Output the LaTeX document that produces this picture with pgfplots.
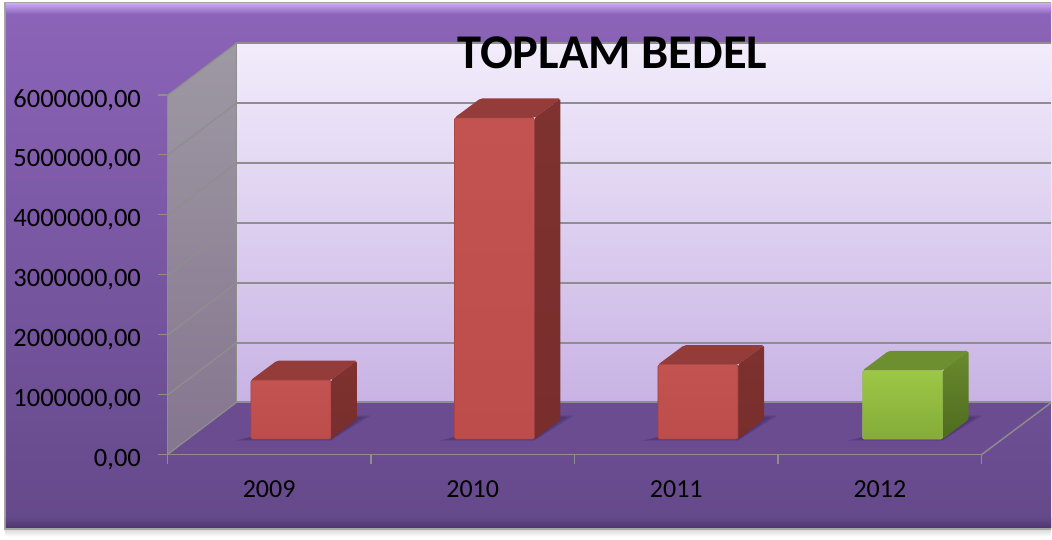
\documentclass[border=0pt]{standalone}
\usepackage{fontspec}
\setmainfont{Carlito}
\usepackage{pgfplots}
\pgfplotsset{compat=1.18}
\definecolor{gridgray}{HTML}{8E8E8E}
\definecolor{rfa}{HTML}{C25350}\definecolor{rfb}{HTML}{BD4D4A}
\definecolor{rt}{HTML}{933C39}\definecolor{rsa}{HTML}{7F3230}
\definecolor{rsb}{HTML}{772E2C}\definecolor{gfa}{HTML}{9DC746}
\definecolor{gfb}{HTML}{84AC38}\definecolor{gt}{HTML}{6E8F30}
\definecolor{gsa}{HTML}{6A8A2D}\definecolor{gsb}{HTML}{4E6B1F}
\definecolor{shadowc}{HTML}{3F2A66}
\definecolor{pgtop}{HTML}{D0D0D0}
\definecolor{bga}{HTML}{8C64B9}\definecolor{bgb}{HTML}{64498A}
\definecolor{bgl}{HTML}{C6A4F2}\definecolor{bgd}{HTML}{4E3770}
\definecolor{wa}{HTML}{F2ECFB}\definecolor{wb}{HTML}{C8B3E4}
\definecolor{floorc}{HTML}{6C4C90}
\definecolor{sa}{HTML}{9E99A3}\definecolor{sb}{HTML}{85758F}
\tikzset{
 redfront/.style={draw=rfb!85!black,line width=.6pt,top color=rfa,bottom color=rfb},
 redtop/.style={draw=none,fill=rt},
 redside/.style={draw=none,top color=rsa,bottom color=rsb},
 greenfront/.style={draw=gfb!85!white,line width=.6pt,top color=gfa,bottom color=gfb},
 greentop/.style={draw=none,fill=gt},
 greenside/.style={draw=none,top color=gsa,bottom color=gsb},
}
% shadow on the floor: left, right, far right, far left
\newcommand\floorshadow[4]{%
 \addplot[draw=none,fill=shadowc,opacity=.35,forget plot] coordinates {(#1,235000)(#2,235000)(#3,650000)(#4,650000)} -- cycle;
 \addplot[draw=none,fill=shadowc,opacity=.4,forget plot] coordinates {(#1+0.03,248000)(#2,248000)(#3-0.03,630000)(#4,630000)} -- cycle;
}
% x0, x1, x2 (back right), xb (back left), top of front face, top of back edge, colour prefix
\newcommand\cube[7]{%
 \addplot[#7top,rounded corners=2pt,forget plot] coordinates {(#1,#5)(#2,#5)(#3,#6)(#4,#6)} -- cycle;
 \addplot[#7side,rounded corners=2pt,forget plot] coordinates {(#2,258000)(#2,#5)(#3,#6)(#3,583000)} -- cycle;
 \addplot[#7front,rounded corners=2pt,forget plot] coordinates {(#1,258000)(#2,258000)(#2,#5)(#1,#5)} -- cycle;
}
\begin{document}
\begin{tikzpicture}
\begin{scope}[x=1pt,y=-1pt,shift={(-167.5pt,455pt)}]
 % page
 \fill[white] (0,0) rectangle (1052,540);
 \shade[top color=pgtop,bottom color=white] (5,528) rectangle (1052,537);
 \fill[gray!70] (4,2.5) rectangle (1052,530);
 % chart area
 \shade[top color=bga,bottom color=bgb] (6,4) rectangle (1052,528);
 \shade[top color=bgl,bottom color=bga] (6,4) rectangle (1052,14);
 \shade[top color=bgb,bottom color=bgd] (6,518) rectangle (1052,528);
 % back wall
 \shade[top color=wa,bottom color=wb] (237,43) rectangle (1052,402.5);
 % floor
 \fill[floorc] (167.5,455) -- (237,402.5) -- (1052,402.5) -- (1052,403) -- (982.5,455) -- cycle;
 % side wall
 \shade[top color=sa,bottom color=sb] (167.5,95.5) -- (237,43) -- (237,402.5) -- (167.5,455) -- cycle;
 % grid
 \foreach \i in {0,...,5} {
   \draw[gridgray,line width=1.8pt] (237,{43+60*\i}) -- (1052,{43+60*\i});
   \draw[gridgray,line width=1.2pt] (167.5,{95.5+60*\i}) -- (237,{43+60*\i});
 }
 \draw[gridgray,line width=1.8pt] (237,402.5) -- (1052,402.5);
 \draw[gridgray,line width=1.2pt] (167.5,455) -- (237,402.5);
 \draw[gridgray,line width=1.4pt] (982.5,455) -- (1052,403);
 \draw[gridgray,line width=1pt] (237,43) -- (237,402.5);
\end{scope}
\begin{axis}[
  at={(0pt,0pt)},anchor=south west,
  scale only axis,width=815pt,height=360pt,
  xmin=0,xmax=4,ymin=0,ymax=6000000,
  clip=false,
  axis x line*=bottom,axis y line*=left,
  axis line style={gridgray,line width=1.4pt,-},
  tick style={gridgray,line width=1.2pt},
  major tick length=9pt,tick align=outside,
  xtick={0,1,2,3,4},
  x tick label as interval,
  xticklabels={2009,2010,2011,2012},
  ytick={0,1000000,2000000,3000000,4000000,5000000,6000000},
  scaled y ticks=false,
  yticklabel style={/pgf/number format/fixed,/pgf/number format/fixed zerofill,/pgf/number format/precision=2,/pgf/number format/use comma,/pgf/number format/1000 sep={},/pgf/number format/assume math mode=true,font=\fontsize{26.5}{28}\selectfont,text=black,xshift=-14pt,yshift=-5pt},
  xticklabel style={font=\fontsize{26}{28}\selectfont,text=black,yshift=-14pt,/pgf/number format/assume math mode=true},
  title={TOPLAM BEDEL},
  title style={font=\fontsize{48.5}{50}\selectfont\bfseries,text=black,anchor=center,at={(axis description cs:0.5465,1.10)}},
]
 \floorshadow{0.336}{0.803}{0.996}{0.83}
 \floorshadow{1.336}{1.803}{1.996}{1.83}
 \floorshadow{2.336}{2.803}{2.996}{2.83}
 \floorshadow{3.341}{3.808}{4.001}{3.835}
 \cube{0.41}{0.803}{0.931}{0.538}{1242000}{1567000}{red}
 \cube{1.41}{1.803}{1.931}{1.538}{5617000}{5942000}{red}
 \cube{2.41}{2.803}{2.931}{2.538}{1500000}{1825000}{red}
 \cube{3.415}{3.808}{3.936}{3.543}{1404000}{1729000}{green}
\end{axis}
\end{tikzpicture}
\end{document}
